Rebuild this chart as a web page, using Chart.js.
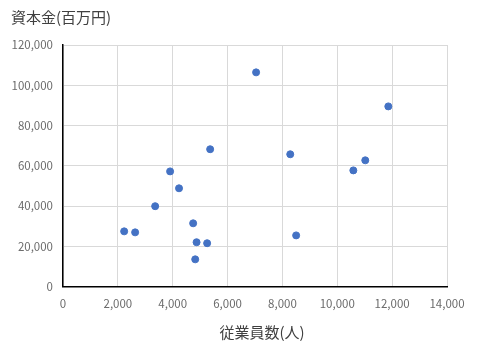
<!DOCTYPE html>
<html>
<head>
<meta charset="utf-8">
<script src="https://cdn.jsdelivr.net/npm/chart.js@4"></script>
<style>
  body { margin: 0; background: #fff; }
</style>
</head>
<body>
<canvas id="graphique" width="486" height="359"></canvas>
<script>
// donnees
const juuguoinsuu = [7040, 11860, 5365, 8285, 11020, 10585, 3905, 4230, 3360, 4745, 2230, 2630, 8500, 4870, 5255, 4820];
const shihonkin = [106400, 89500, 68200, 65700, 62700, 57700, 57200, 48800, 39900, 31400, 27400, 26900, 25400, 22000, 21500, 13500];
const titreY = "資本金(百万円)";
const titreX = "従業員数(人)";

const police = "'Noto Sans CJK JP', 'Noto Sans', sans-serif";
Chart.defaults.font.family = police;

function points(xs, ys) {
    let p = [];
    for (let n = 0; n < xs.length; n++) {
        p.push({x: xs[n], y: ys[n]});
    }
    return p;
}

// titres dessines a la main (position comme Excel)
const titres = {
    id: "titres",
    afterDraw(chart) {
        const ctx = chart.ctx;
        ctx.save();
        ctx.fillStyle = "#404040";
        ctx.font = "15px " + police;
        ctx.textBaseline = "middle";
        ctx.textAlign = "left";
        ctx.fillText(titreY, 11, 17);
        ctx.textAlign = "center";
        ctx.fillText(titreX, 262, 332);
        ctx.restore();
    }
};

const nombre = v => v.toLocaleString("en-US");

window.graphique = new Chart(document.getElementById("graphique"), {
    type: "scatter",
    data: {
        datasets: [{
            label: "資本金",
            data: points(juuguoinsuu, shihonkin),
            backgroundColor: "#4472C4",
            borderColor: "#4472C4",
            pointRadius: 3.5,
            pointHoverRadius: 3.5
        }]
    },
    options: {
        responsive: false,
        animation: false,
        layout: { padding: { top: 45, right: 39, bottom: 0, left: 0 } },
        plugins: {
            legend: { display: false },
            tooltip: { enabled: false }
        },
        scales: {
            x: {
                min: 0, max: 14000,
                ticks: { stepSize: 2000, color: "#6b6b6b", font: { size: 11.5 }, padding: 10, callback: nombre, maxRotation: 0 },
                grid: { color: "#d9d9d9", drawTicks: false },
                border: { color: "#000", width: 1.5 },
                afterFit: s => { s.height = 72.5; }
            },
            y: {
                min: 0, max: 120000,
                ticks: { stepSize: 20000, color: "#6b6b6b", font: { size: 11.5 }, padding: 10, callback: nombre },
                grid: { color: "#d9d9d9", drawTicks: false },
                border: { color: "#000", width: 1.5 },
                afterFit: s => { s.width = 63; }
            }
        }
    },
    plugins: [titres]
});
</script>
</body>
</html>
